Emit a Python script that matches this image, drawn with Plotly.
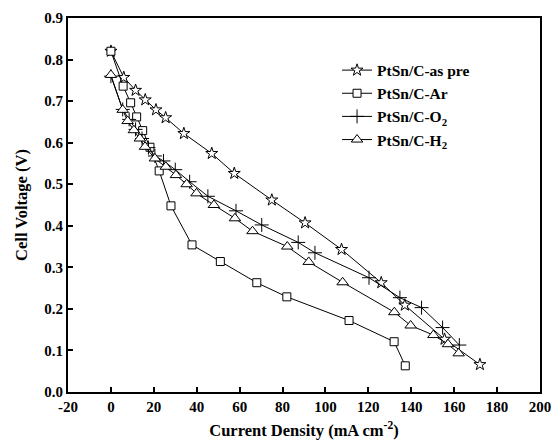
import plotly.graph_objects as go

as_pre_x = [0, 6, 11.5, 16, 21, 25.5, 34, 47, 57.5, 75, 90.5, 107.5, 126, 137, 155.5, 172]
as_pre_y = [0.82, 0.757, 0.726, 0.703, 0.679, 0.66, 0.622, 0.574, 0.526, 0.462, 0.407, 0.343, 0.263, 0.209, 0.127, 0.066]

ar_x = [0, 5.7, 9.2, 12, 14.8, 18.2, 22.5, 28, 37.8, 51, 68, 82, 111, 132, 137.2]
ar_y = [0.82, 0.736, 0.696, 0.662, 0.629, 0.589, 0.532, 0.448, 0.354, 0.314, 0.263, 0.229, 0.172, 0.121, 0.063]

o2_x = [0, 5.5, 8.5, 11.5, 14.5, 17.5, 20.5, 24.5, 30, 36.7, 45.2, 58.3, 70.3, 87.3, 95.1, 120.3, 134.7, 144.8, 154.6, 162.4]
o2_y = [0.76, 0.68, 0.656, 0.632, 0.61, 0.588, 0.568, 0.556, 0.535, 0.506, 0.471, 0.436, 0.402, 0.36, 0.335, 0.275, 0.227, 0.203, 0.155, 0.113]

h2_x = [0, 5.5, 7.8, 10.7, 13.5, 15.9, 20.5, 25.6, 30.3, 35.3, 39.9, 48, 57.8, 66, 82.2, 92.2, 108, 132.1, 139.7, 150.3, 157.1, 162.1]
h2_y = [0.763, 0.679, 0.652, 0.63, 0.61, 0.59, 0.562, 0.542, 0.522, 0.5, 0.478, 0.45, 0.418, 0.387, 0.35, 0.313, 0.264, 0.192, 0.16, 0.137, 0.115, 0.093]

x_ticks = [-20, 0, 20, 40, 60, 80, 100, 120, 140, 160, 180, 200]
x_tick_labels = ["-20", "0", "20", "40", "60", "80", "100", "120", "140", "160", "180", "200"]
y_ticks = [0.0, 0.1, 0.2, 0.3, 0.4, 0.5, 0.6, 0.7, 0.8, 0.9]
y_tick_labels = ["0.0", "0.1", "0.2", "0.3", "0.4", "0.5", "0.6", "0.7", "0.8", "0.9"]

series = [
    ("PtSn/C-as pre", as_pre_x, as_pre_y, "star", 9),
    ("PtSn/C-Ar", ar_x, ar_y, "square", 8),
    ("PtSn/C-O<sub>2</sub>", o2_x, o2_y, "cross-thin", 10),
    ("PtSn/C-H<sub>2</sub>", h2_x, h2_y, "triangle-up", 10),
]

fig = go.Figure()
for name, xs, ys, sym, sz in series:
    fig.add_trace(go.Scatter(
        x=xs, y=ys, name=name, mode="lines+markers",
        line=dict(color="black", width=1),
        marker=dict(symbol=sym, size=sz, color="white",
                    line=dict(color="black", width=1)),
    ))

font_family = "Liberation Serif, Times New Roman, serif"
fig.update_layout(
    width=551, height=445,
    margin=dict(l=68, r=11, t=18, b=53, autoexpand=False),
    paper_bgcolor="white", plot_bgcolor="white",
    font=dict(family=font_family, color="black", size=15),
    showlegend=True,
    legend=dict(
        x=0.57, y=0.905, xanchor="left", yanchor="top",
        bgcolor="rgba(0,0,0,0)", borderwidth=0,
        font=dict(family=font_family, size=15.5, color="black", weight="bold"),
        tracegroupgap=0,
    ),
)
fig.update_xaxes(
    range=[-20, 200], tickmode="array", tickvals=x_ticks, ticktext=x_tick_labels,
    showgrid=False, zeroline=False, automargin=False, ticklabeloverflow="allow",
    showline=True, linecolor="black", linewidth=2, mirror=True,
    ticks="inside", ticklen=5, tickwidth=2, tickcolor="black",
    tickfont=dict(family=font_family, size=15, color="black", weight="bold"),
    title=dict(text="Current Density (mA cm<sup>-2</sup>)", standoff=10,
               font=dict(family=font_family, size=16.5, color="black", weight="bold")),
)
fig.update_yaxes(
    range=[0, 0.9], tickmode="array", tickvals=y_ticks, ticktext=y_tick_labels,
    showgrid=False, zeroline=False, automargin=False, ticklabeloverflow="allow",
    showline=True, linecolor="black", linewidth=2, mirror=True,
    ticks="inside", ticklen=5, tickwidth=2, tickcolor="black",
    tickfont=dict(family=font_family, size=15, color="black", weight="bold"),
    title=dict(text="Cell Voltage (V)", standoff=12,
               font=dict(family=font_family, size=16.5, color="black", weight="bold")),
)

fig.write_html("out.html")
